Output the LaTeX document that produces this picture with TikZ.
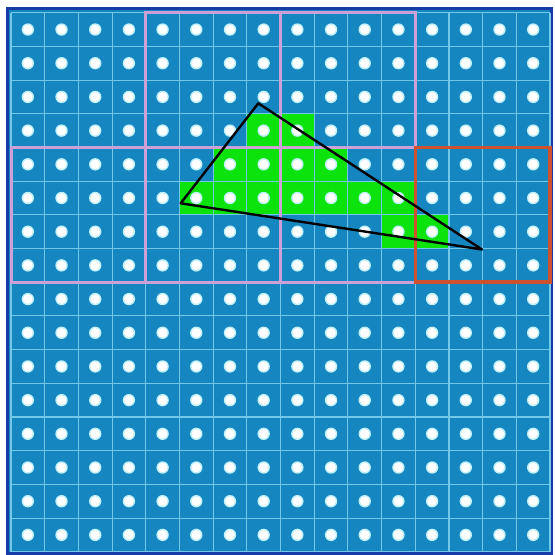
\documentclass[tikz,border=0pt]{standalone}
\definecolor{cellblue}{RGB}{22,134,192}
\definecolor{gridline}{RGB}{115,200,232}
\definecolor{pixgreen}{RGB}{12,226,12}
\definecolor{tilepink}{RGB}{205,160,215}
\definecolor{tilered}{RGB}{205,82,45}
\definecolor{edgeblue}{RGB}{22,58,168}
\definecolor{dotglow}{RGB}{190,240,250}
\begin{document}
\begin{tikzpicture}[x=1pt,y=-1pt,
  cellgrid/.style={gridline, line width=1.1pt},
  tileline/.style={tilepink, line width=3pt},
  tilehot/.style={tilered, line width=3.5pt},
  triline/.style={black, line width=2.4pt, line join=round}]
\useasboundingbox (0,0) rectangle (555,555);
\fill[white] (0,0) rectangle (555,555);
\fill[cellblue] (6,7) rectangle (552,554);
\draw[edgeblue, line width=2.5pt] (7.25,8.25) rectangle (551.5,553.5);
% covered pixels
\foreach \c/\r in {7/3,8/3,6/4,7/4,8/4,9/4,5/5,6/5,7/5,8/5,9/5,10/5,11/5,11/6,12/6}
  \fill[pixgreen] ({11+\c*33.69},{12.7+\r*33.69}) rectangle ++(33.69,33.69);
% grid lines
\foreach \i in {0,...,16} {
  \draw[cellgrid] ({11+\i*33.69},12.7) -- ({11+\i*33.69},551.7);
  \draw[cellgrid] (11,{12.7+\i*33.69}) -- (550,{12.7+\i*33.69});
}
% pixel centres
\foreach \i in {0,...,15} \foreach \j in {0,...,15} {
  \fill[dotglow] ({11+(\i+0.5)*33.69},{12.7+(\j+0.5)*33.69}) circle (6.2);
  \fill[white] ({11+(\i+0.5)*33.69},{12.7+(\j+0.5)*33.69}) circle (4.8);
}
% tiles
\draw[tileline] (145.76,12.7) rectangle (415.28,147.46);
\draw[tileline] (280.52,12.7) -- (280.52,282.22);
\draw[tileline] (11,147.46) rectangle (415.28,282.22);
\draw[tileline] (145.76,147.46) -- (145.76,282.22);
\draw[tilehot] (415.28,147.46) rectangle (550.04,282.22);
% triangle
\coordinate (A) at (258.3,103.3);
\coordinate (B) at (180.7,203.3);
\coordinate (C) at (482,249.5);
\draw[triline] (A) -- (C) -- (B) -- cycle;
\end{tikzpicture}
\end{document}
